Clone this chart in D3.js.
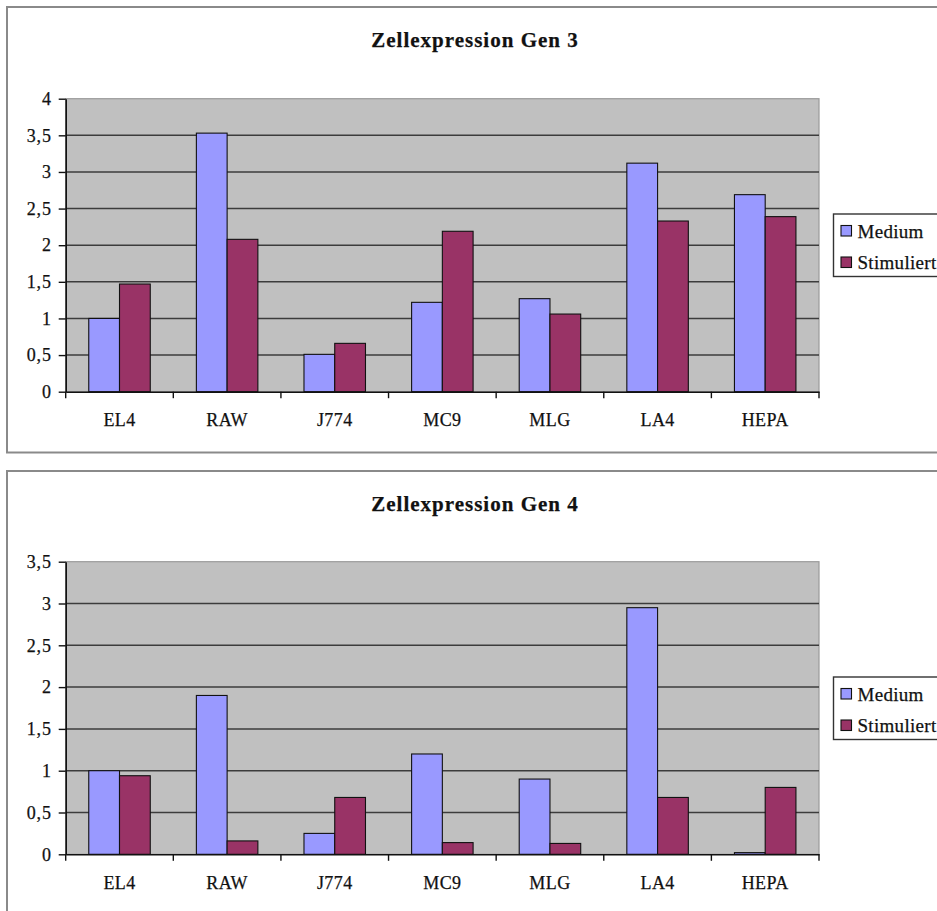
<!DOCTYPE html>
<html>
<head>
<meta charset="utf-8">
<script src="https://cdn.jsdelivr.net/npm/d3@7/dist/d3.min.js"></script>
<style>
  html, body { margin: 0; padding: 0; background: #fff; }
  svg { display: block; }
  svg text { font-family: "Liberation Serif", "Tinos", "Times New Roman", "DejaVu Serif", serif !important; fill: #111; stroke: #111; stroke-width: 0.25px; }
</style>
</head>
<body>
<svg id="chart" width="937" height="911"></svg>
<script>
// Cell lines on the x axis
const categories = ["EL4", "RAW", "J774", "MC9", "MLG", "LA4", "HEPA"];
const seriesNames = ["Medium", "Stimuliert"];
const seriesColors = ["#9999ff", "#993366"];

// Gen 3 expression values
const gen3Medium     = [1.00, 3.53, 0.51, 1.22, 1.27, 3.12, 2.69];
const gen3Stimuliert = [1.47, 2.08, 0.66, 2.19, 1.06, 2.33, 2.39];
const gen3Ticks      = [0, 0.5, 1, 1.5, 2, 2.5, 3, 3.5, 4];

// Gen 4 expression values
const gen4Medium     = [1.00, 1.90, 0.25, 1.20, 0.90, 2.95, 0.02];
const gen4Stimuliert = [0.94, 0.16, 0.68, 0.14, 0.13, 0.68, 0.80];
const gen4Ticks      = [0, 0.5, 1, 1.5, 2, 2.5, 3, 3.5];

const deLocale = d3.formatLocale({ decimal: ",", thousands: ".", grouping: [3], currency: ["", " €"] });
const fmt = deLocale.format(".1~f");
const FONT = '"Liberation Serif", Tinos, "Times New Roman", "DejaVu Serif", serif';

const svg = d3.select("#chart");

function drawChart(cfg) {
  const g = svg.append("g").attr("font-family", FONT);
  const plotLeft = 65.7, plotRight = 819;

  // chart frame
  g.append("rect")
    .attr("x", 7).attr("y", cfg.frameTop)
    .attr("width", 945).attr("height", cfg.frameHeight)
    .attr("fill", "#fff").attr("stroke", "#8a8a8a").attr("stroke-width", 2);

  // title
  g.append("text")
    .attr("x", 475).attr("y", cfg.frameTop + 39.7)
    .attr("text-anchor", "middle")
    .style("font-size", "21px").style("font-weight", "bold")
    .style("letter-spacing", "1px")
    .text(cfg.title);

  const x0 = d3.scaleBand().domain(categories).range([plotLeft, plotRight]).padding(0);
  const x1 = d3.scaleBand().domain(seriesNames).range([0, x0.bandwidth()])
    .paddingInner(0).paddingOuter(0.75);
  const yMax = cfg.ticks[cfg.ticks.length - 1];
  const y = d3.scaleLinear().domain([0, yMax]).range([cfg.plotBottom, cfg.plotTop]);

  // plot area
  g.append("rect")
    .attr("x", plotLeft).attr("y", y(yMax))
    .attr("width", plotRight - plotLeft).attr("height", y(0) - y(yMax))
    .attr("fill", "#c0c0c0").attr("stroke", "#9a9a9a").attr("stroke-width", 1.2);

  // horizontal gridlines
  g.append("g").selectAll("line")
    .data(cfg.ticks.filter(t => t > 0 && t < yMax))
    .join("line")
    .attr("x1", plotLeft).attr("x2", plotRight)
    .attr("y1", d => y(d)).attr("y2", d => y(d))
    .attr("stroke", "#3c3c3c").attr("stroke-width", 1.5);

  // bars
  const values = [cfg.medium, cfg.stim];
  const rows = categories.map((c, i) => seriesNames.map((s, k) => ({ c, s, k, v: values[k][i] })));
  g.append("g").selectAll("g")
    .data(rows)
    .join("g")
    .attr("transform", d => `translate(${x0(d[0].c)},0)`)
    .selectAll("rect")
    .data(d => d)
    .join("rect")
    .attr("x", d => x1(d.s))
    .attr("y", d => y(d.v))
    .attr("width", x1.bandwidth())
    .attr("height", d => y(0) - y(d.v))
    .attr("fill", d => seriesColors[d.k])
    .attr("stroke", "#111").attr("stroke-width", 1.1);

  // y axis
  const yAxis = g.append("g")
    .attr("transform", `translate(${plotLeft},0)`)
    .call(d3.axisLeft(y).tickValues(cfg.ticks).tickFormat(fmt).tickSize(7).tickSizeOuter(0).tickPadding(7))
    .attr("font-family", FONT);
  yAxis.select(".domain").attr("stroke", "#111").attr("stroke-width", 1.6);
  yAxis.selectAll(".tick line").attr("stroke", "#111").attr("stroke-width", 1.4);
  yAxis.selectAll("text").style("font-size", "18px").style("letter-spacing", "0.8px").attr("fill", "#111");

  // x axis: labels centred on categories, ticks on category boundaries
  const xAxis = g.append("g")
    .attr("transform", `translate(0,${y(0)})`)
    .call(d3.axisBottom(x0).tickSize(0).tickPadding(22))
    .attr("font-family", FONT);
  xAxis.select(".domain").attr("stroke", "#111").attr("stroke-width", 1.6);
  xAxis.selectAll("text").style("font-size", "18px").style("letter-spacing", "0.4px").attr("fill", "#111");
  const bounds = categories.map(c => x0(c)).concat([x0.range()[1]]);
  xAxis.append("g").selectAll("line")
    .data(bounds)
    .join("line")
    .attr("x1", d => d).attr("x2", d => d)
    .attr("y1", 0).attr("y2", 6.5)
    .attr("stroke", "#111").attr("stroke-width", 1.4);

  // legend
  const lg = g.append("g").attr("transform", `translate(833.5,${cfg.legendTop})`);
  lg.append("rect")
    .attr("width", 130).attr("height", 62.5)
    .attr("fill", "#fff").attr("stroke", "#333").attr("stroke-width", 1.4);
  const items = lg.selectAll("g.item")
    .data(seriesNames)
    .join("g").attr("class", "item")
    .attr("transform", (d, i) => `translate(0,${i * 31.5})`);
  items.append("rect")
    .attr("x", 7.5).attr("y", 11.5)
    .attr("width", 10.5).attr("height", 10.5)
    .attr("fill", (d, i) => seriesColors[i])
    .attr("stroke", "#111").attr("stroke-width", 1.1);
  items.append("text")
    .attr("x", 24).attr("y", 23.5)
    .style("font-size", "19px").style("letter-spacing", "0.3px")
    .text(d => d);
}

drawChart({
  title: "Zellexpression Gen 3",
  frameTop: 7, frameHeight: 445.5,
  plotTop: 98.7, plotBottom: 391.7,
  legendTop: 214,
  medium: gen3Medium, stim: gen3Stimuliert, ticks: gen3Ticks
});

drawChart({
  title: "Zellexpression Gen 4",
  frameTop: 471, frameHeight: 460,
  plotTop: 561.7, plotBottom: 854.3,
  legendTop: 677,
  medium: gen4Medium, stim: gen4Stimuliert, ticks: gen4Ticks
});
</script>
</body>
</html>
